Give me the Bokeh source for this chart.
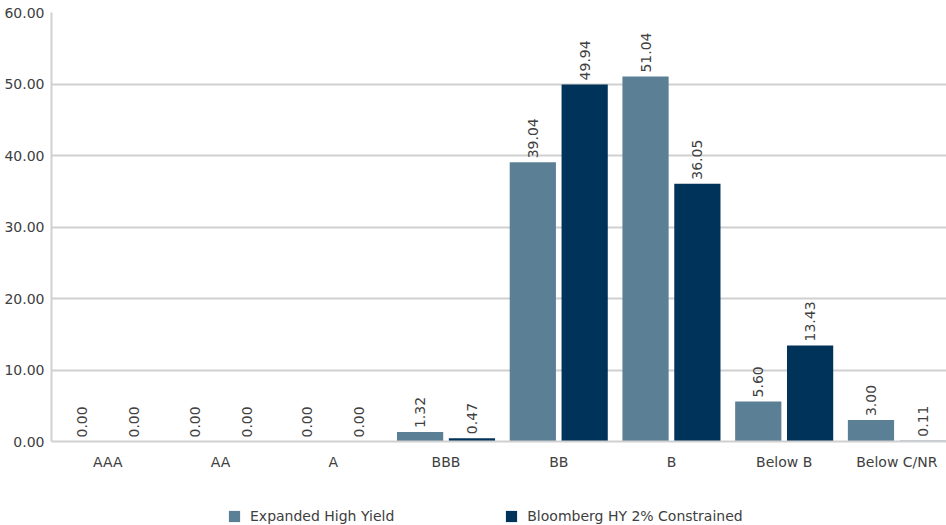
from bokeh.plotting import figure
from bokeh.layouts import column
from bokeh.models import ColumnDataSource, Range1d, FixedTicker, Legend, LegendItem, NumeralTickFormatter
from bokeh.core.properties import value
from bokeh.embed import file_html
from bokeh.resources import INLINE

categories = ["AAA", "AA", "A", "BBB", "BB", "B", "Below B", "Below C/NR"]
series_names = ["Expanded High Yield", "Bloomberg HY 2% Constrained"]
expanded_hy = [0.00, 0.00, 0.00, 1.32, 39.04, 51.04, 5.60, 3.00]
bloomberg_hy = [0.00, 0.00, 0.00, 0.47, 49.94, 36.05, 13.43, 0.11]
y_ticks = [0, 10, 20, 30, 40, 50, 60]

COL1 = "#5B7F95"
COL2 = "#003359"
FONT = "DejaVu Sans"
TXT = "#404040"
GRID = "#D0D0D0"

centers = [i + 0.5 for i in range(len(categories))]
off = 0.23
bw = 0.41

src1 = ColumnDataSource(dict(x=[c - off for c in centers], top=expanded_hy,
                             lab=["%.2f" % v for v in expanded_hy]))
src2 = ColumnDataSource(dict(x=[c + off for c in centers], top=bloomberg_hy,
                             lab=["%.2f" % v for v in bloomberg_hy]))

p = figure(width=946, height=472, output_backend="svg", toolbar_location=None,
           x_range=Range1d(0, 7.94), y_range=Range1d(0, 60),
           min_border_left=51, min_border_right=0, min_border_top=12, min_border_bottom=30)
p.outline_line_color = None
p.background_fill_color = "white"

r1 = p.vbar(x="x", top="top", width=bw, source=src1, fill_color=COL1, line_color=None)
r2 = p.vbar(x="x", top="top", width=bw, source=src2, fill_color=COL2, line_color=None)

for s in (src1, src2):
    p.text(x="x", y="top", text="lab", source=s, angle=1.5708,
           text_align="left", text_baseline="middle", y_offset=-4,
           text_font=value(FONT), text_font_size="14px", text_color=TXT)

# axes
p.xaxis.ticker = FixedTicker(ticks=centers)
p.xaxis.major_label_overrides = {c: lab for c, lab in zip(centers, categories)}
p.yaxis.ticker = FixedTicker(ticks=y_ticks)
p.yaxis.formatter = NumeralTickFormatter(format="0.00")
for ax in (p.xaxis[0], p.yaxis[0]):
    ax.major_tick_line_color = None
    ax.minor_tick_line_color = None
    ax.major_tick_out = 0
    ax.major_tick_in = 0
    ax.minor_tick_out = 0
    ax.minor_tick_in = 0
    ax.axis_line_color = GRID
    ax.axis_line_width = 2
    ax.major_label_text_font = FONT
    ax.major_label_text_font_size = "14px"
    ax.major_label_text_color = TXT
p.xaxis.major_label_standoff = 12
p.yaxis.major_label_standoff = 7

p.xgrid.grid_line_color = None
p.ygrid.grid_line_color = GRID
p.ygrid.grid_line_width = 2

# legend strip (swatch renderers sit outside the strip's visible range)
lg = figure(width=946, height=53, output_backend="svg", toolbar_location=None,
            x_range=Range1d(0, 1), y_range=Range1d(0, 1),
            min_border_left=0, min_border_right=0, min_border_top=0, min_border_bottom=0)
lg.outline_line_color = None
lg.axis.visible = False
lg.grid.visible = False
e1 = lg.vbar(x=[5], top=[1], width=0.1, fill_color=COL1, line_color=None)
e2 = lg.vbar(x=[5], top=[1], width=0.1, fill_color=COL2, line_color=None)
legend = Legend(items=[LegendItem(label=series_names[0], renderers=[e1]),
                       LegendItem(label=series_names[1], renderers=[e2])],
                orientation="horizontal", location=(176, 1),
                glyph_width=14, glyph_height=14, label_standoff=9, spacing=110,
                label_text_font=FONT, label_text_font_size="14px", label_text_color=TXT,
                border_line_color=None, background_fill_alpha=0, margin=0, padding=0)
lg.add_layout(legend, "center")

layout = column(p, lg, spacing=0)
open("out.html", "w").write(file_html(layout, INLINE))
